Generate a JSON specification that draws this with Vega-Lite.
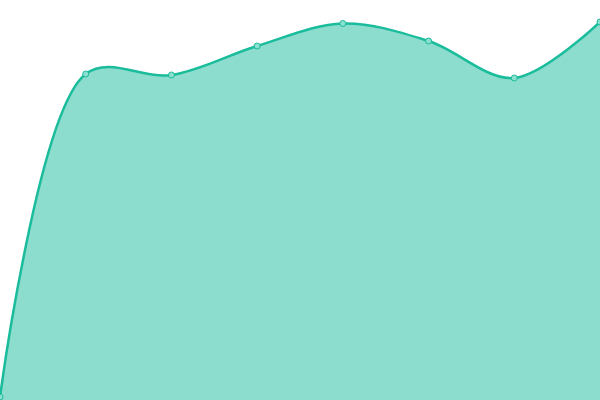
{
  "$schema": "https://vega.github.io/schema/vega-lite/v6.json",
  "autosize": {"type": "none"},
  "width": 600,
  "height": 400,
  "padding": 0,
  "background": "white",
  "config": {"view": {"stroke": null}},
  "data": {
    "values": [
      {"i": 0, "v": 3},
      {"i": 1, "v": 326},
      {"i": 2, "v": 325},
      {"i": 3, "v": 354},
      {"i": 4, "v": 376.5},
      {"i": 5, "v": 359},
      {"i": 6, "v": 322},
      {"i": 7, "v": 378}
    ]
  },
  "encoding": {
    "x": {"field": "i", "type": "quantitative", "axis": null,
          "scale": {"domain": [0, 7], "nice": false, "zero": false}},
    "y": {"field": "v", "type": "quantitative", "axis": null,
          "scale": {"domain": [0, 400], "nice": false}}
  },
  "layer": [
    {"mark": {"type": "area", "interpolate": "catmull-rom", "color": "#1abc9c", "opacity": 0.5}},
    {"mark": {"type": "line", "interpolate": "catmull-rom", "color": "#1abc9c", "strokeWidth": 2.5}},
    {"mark": {"type": "point", "filled": true, "fill": "#8ce0cf", "stroke": "#1abc9c", "strokeWidth": 1, "size": 36, "opacity": 1}}
  ]
}
